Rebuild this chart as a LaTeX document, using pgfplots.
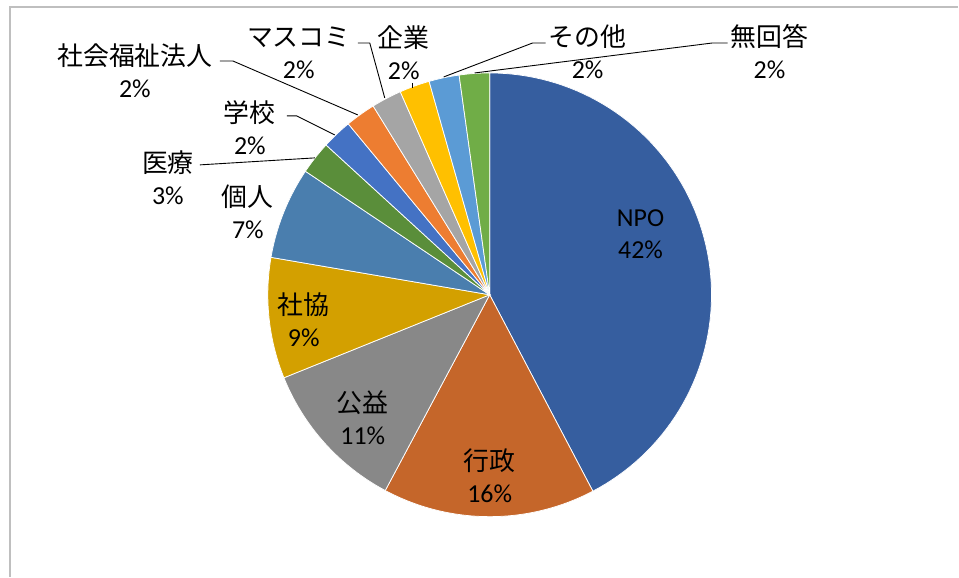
\documentclass[border=0pt]{standalone}
\usepackage{pgfplots}
\pgfplotsset{compat=1.18}
\usepackage{pgfplotstable}
\usepackage{fontspec}
\setmainfont{Carlito}
\newfontfamily\jp{Noto Sans CJK JP}
\definecolor{c0}{HTML}{365E9F}
\definecolor{c1}{HTML}{C5662A}
\definecolor{c2}{HTML}{888888}
\definecolor{c3}{HTML}{D3A000}
\definecolor{c4}{HTML}{4A7EAE}
\definecolor{c5}{HTML}{5A8E3A}
\definecolor{c6}{HTML}{4472C4}
\definecolor{c7}{HTML}{ED7D31}
\definecolor{c8}{HTML}{A5A5A5}
\definecolor{c9}{HTML}{FFC000}
\definecolor{c10}{HTML}{5B9BD5}
\definecolor{c11}{HTML}{70AD47}
\definecolor{frame}{HTML}{BFBFBF}
% share of each answer, percent, clockwise from 12 o'clock
\pgfplotstableread{
key value
NPO 42.3
gyosei 15.5
koeki 11.1
shakyo 8.8
kojin 6.7
iryo 2.4
gakko 2.2
shafuku 2.2
masukomi 2.2
kigyo 2.2
sonota 2.2
mukaito 2.2
}\piedata
\begin{document}
\begin{tikzpicture}
\begin{axis}[width=959bp, height=577bp, scale only axis,
  xmin=0, xmax=959, ymin=0, ymax=577, hide axis, clip=false]
\path (axis cs:0,0) rectangle (axis cs:959,577);
\def\cum{0}
\pgfplotsforeachungrouped \i in {0,...,11}{%
  \pgfplotstablegetelem{\i}{value}\of\piedata
  \pgfmathsetmacro\newcum{\cum+\pgfplotsretval}%
  \pgfmathsetmacro\sa{\cum*3.6}%
  \pgfmathsetmacro\sb{\newcum*3.6}%
  \let\cum\newcum
  \edef\temp{\noexpand\addplot[fill=c\i, draw=white, line width=0.75pt, domain=\sa:\sb, samples=80]
    ({490+222*sin(x)},{282+222*cos(x)}) -- (axis cs:490,282) -- cycle;}%
  \temp
}
% frame
\draw[frame, line width=1.3pt] (axis cs:10,0) -- (axis cs:10,570) -- (axis cs:959,570);
% leader lines
\draw[black, line width=0.9pt] (axis cs:220,516) -- (axis cs:233,516) -- (axis cs:358,462);
\draw[black, line width=0.9pt] (axis cs:358,534) -- (axis cs:370,534) -- (axis cs:385,479);
\draw[black, line width=0.9pt] (axis cs:413,494) -- (axis cs:413,489);
\draw[black, line width=0.9pt] (axis cs:546,534) -- (axis cs:533,534) -- (axis cs:444,500);
\draw[black, line width=0.9pt] (axis cs:728,534) -- (axis cs:713,534) -- (axis cs:475,504);
\draw[black, line width=0.9pt] (axis cs:287,461) -- (axis cs:297,461) -- (axis cs:335,442);
\draw[black, line width=0.9pt] (axis cs:200,412) -- (axis cs:315,419);
% labels
\tikzset{lab/.style={align=center, inner sep=0pt, font=\fontsize{26}{32}\selectfont}}
\node[lab] at (axis cs:641,343) {NPO\\42\%};
\node[lab] at (axis cs:490,101) {{\jp 行政}\\16\%};
\node[lab] at (axis cs:363,159) {{\jp 公益}\\11\%};
\node[lab] at (axis cs:304,257) {{\jp 社協}\\9\%};
\node[lab] at (axis cs:248,365) {{\jp 個人}\\7\%};
\node[lab] at (axis cs:168,399) {{\jp 医療}\\3\%};
\node[lab] at (axis cs:250,449) {{\jp 学校}\\2\%};
\node[lab] at (axis cs:135,506) {{\jp 社会福祉法人}\\2\%};
\node[lab] at (axis cs:299,524) {{\jp マスコミ}\\2\%};
\node[lab] at (axis cs:404,524) {{\jp 企業}\\2\%};
\node[lab] at (axis cs:588,525) {{\jp その他}\\2\%};
\node[lab] at (axis cs:770,525) {{\jp 無回答}\\2\%};
\end{axis}
\end{tikzpicture}
\end{document}
